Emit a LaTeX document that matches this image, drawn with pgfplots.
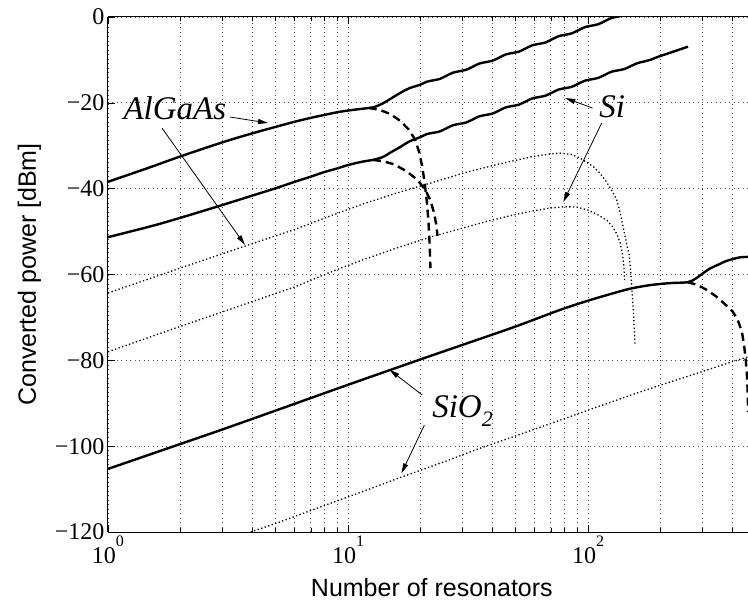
\documentclass[border=0pt]{standalone}
\usepackage{fontspec}
\setmainfont{Liberation Serif}
\setsansfont{Liberation Sans}
\usepackage{pgfplots}
\pgfplotsset{compat=1.18}
\usetikzlibrary{arrows.meta}
\newcommand{\tenpow}[1]{10\raisebox{17bp}{\fontsize{16bp}{16bp}\selectfont #1}}
\begin{document}
\begin{tikzpicture}
\begin{axis}[
  width=640bp, height=515bp, scale only axis,
  xmode=log, xmin=1, xmax=464, ymin=-120, ymax=0,
  axis x line=box, axis y line*=left,
  xtick={1,10,100}, xticklabels={\tenpow{0},\tenpow{1},\tenpow{2}},
  minor xtick={2,3,4,5,6,7,8,9,20,30,40,50,60,70,80,90,200,300,400},
  ytick={-120,-100,-80,-60,-40,-20,0},
  yticklabels={−120,−100,−80,−60,−40,−20,0},
  xmajorgrids, xminorgrids, ymajorgrids,
  grid style={black!70, line width=0.7bp, dash pattern=on 0.7bp off 3.8bp},
  minor grid style={black!70, line width=0.7bp, dash pattern=on 0.7bp off 3.8bp},
  tick align=inside, major tick length=7bp, minor tick length=4bp,
  every tick/.style={black, line width=0.6bp},
  axis line style={line width=1bp},
  tick label style={font=\fontsize{24bp}{26bp}\selectfont},
  xlabel={Number of resonators}, ylabel={Converted power [dBm]},
  label style={font=\sffamily\fontsize{25bp}{28bp}\selectfont},
  xlabel style={at={(axis description cs:0.506,-0.1262)}, anchor=base},
  ylabel style={at={(axis description cs:-0.1125,0.5)}, anchor=base, rotate=0},
]
% AlGaAs solid
\addplot[line width=2.4bp, smooth, tension=0.55] coordinates {
(1,-38.4)(1.5,-35)(2,-32.5)(3,-29.2)(4,-27.1)(5,-25.6)(6,-24.4)(7,-23.5)(8,-22.8)(9,-22.2)(10,-21.8)(11,-21.5)(12.2,-21.2)
(13,-20.9)(14,-20.1)(15,-19.1)(16.5,-17.7)(18,-16.6)(19.95,-15.8)
(21.26,-15.09)(22.65,-14.76)(24.13,-14.43)(25.70,-13.70)(27.38,-12.97)(29.17,-12.63)(31.08,-12.30)(33.11,-11.57)
(35.28,-10.84)(37.58,-10.51)(40.04,-10.18)(42.66,-9.45)(45.45,-8.72)(48.42,-8.39)(51.58,-8.06)(54.95,-7.33)
(58.55,-6.60)(62.37,-6.27)(66.45,-5.94)(70.79,-5.20)(75.42,-4.47)(80.35,-4.14)(85.60,-3.81)(91.20,-3.08)
(97.16,-2.35)(103.5,-2.02)(110.3,-1.69)(117.5,-0.96)(125.2,-0.23)(133.4,0.10)(142.1,0.43)};
% Si solid
\addplot[line width=2.4bp, smooth, tension=0.55] coordinates {
(1,-51.3)(1.5,-48.8)(2,-46.8)(3,-43.8)(4,-41.6)(5,-39.9)(6,-38.4)(7,-37.2)(8,-36.1)(9,-35.3)(10,-34.5)(11.5,-33.7)(12.7,-33.3)
(14,-32.6)(15,-31.6)(16.5,-30.3)(18,-29.0)(20,-28.0)
(21.26,-27.30)(22.65,-26.98)(24.13,-26.66)(25.70,-25.94)(27.38,-25.22)(29.17,-24.90)(31.08,-24.58)(33.11,-23.86)
(35.28,-23.14)(37.58,-22.82)(40.04,-22.50)(42.66,-21.78)(45.45,-21.06)(48.42,-20.74)(51.58,-20.42)(54.95,-19.70)
(58.55,-18.98)(62.37,-18.66)(66.45,-18.34)(70.79,-17.62)(75.42,-16.90)(80.35,-16.58)(85.60,-16.26)(91.20,-15.55)
(97.16,-14.83)(103.5,-14.51)(110.3,-14.19)(117.5,-13.47)(125.2,-12.75)(133.4,-12.43)(142.1,-12.11)(151.4,-11.39)
(161.3,-10.72)(171.8,-10.35)(183.0,-9.93)(195.0,-9.31)(207.7,-8.79)(221.3,-8.27)(235.8,-7.75)(251.2,-7.23)(261,-6.92)};
% AlGaAs dashed
\addplot[line width=2.4bp, dash pattern=on 8bp off 5bp] coordinates {
(12.2,-21.2)(13.5,-21.6)(15,-22.6)(16.5,-24.2)(17.9,-26.2)(19,-28.5)(19.8,-31.5)(20.4,-35)(20.9,-39)(21.3,-43)(21.6,-47)(21.8,-51)(21.95,-55)(22.05,-58.5)};
% Si dashed
\addplot[line width=2.4bp, dash pattern=on 8bp off 5bp] coordinates {
(12.7,-33.3)(14,-33.6)(15.5,-34.3)(17.5,-35.9)(19.5,-38)(21,-40.3)(22,-42.6)(22.8,-45.5)(23.3,-48.3)(23.6,-51)};
% AlGaAs dotted
\addplot[line width=1.3bp, dash pattern=on 1.3bp off 2.4bp] coordinates {
(1,-64.3)(2,-58.5)(4,-52.8)(6,-49.5)(8.4,-46.4)(11.5,-43.6)(16,-41.0)(20,-39.4)(25,-37.8)(31,-36.2)(43,-34.2)(59,-32.5)(70,-31.9)(76,-31.7)(85,-32.0)(92,-32.8)(99,-33.9)(106,-35.0)(112,-36.4)(118,-38.0)(123,-39.6)(128,-41.2)(132,-42.8)(136,-45.5)(140,-48.9)(145,-53)(148.5,-55.5)(151,-60)(153,-65)(155,-70)(157,-76.4)};
% Si dotted
\addplot[line width=1.3bp, dash pattern=on 1.3bp off 2.4bp] coordinates {
(1,-78)(2,-72.1)(4,-66.3)(6,-62.9)(8.4,-59.5)(11.5,-56.6)(16,-53.8)(22,-51.3)(30,-49.2)(38,-47.6)(50,-46)(60,-45.1)(70,-44.5)(80,-44.2)(90,-44.3)(100,-45)(110,-46.1)(120,-47.4)(127,-49)(132,-50.6)(136,-52.6)(139,-55)(141,-58)(142,-61.3)};
% SiO2 solid
\addplot[line width=2.4bp, smooth, tension=0.5] coordinates {
(1,-105.3)(2,-99.5)(3,-96.1)(5,-91.7)(10,-85.7)(20,-79.8)(30,-76.4)(50,-72.1)(76,-68.3)(100,-66.1)(125,-64.5)(150,-63.3)(180,-62.5)(220,-62.0)(260,-61.8)
(280,-61.0)(300,-59.8)(320,-58.7)(346,-57.8)(375,-56.9)(401,-56.4)(430,-56.0)(464,-55.9)};
% SiO2 dashed
\addplot[line width=2.4bp, dash pattern=on 8bp off 5bp] coordinates {
(260,-61.8)(285,-62.4)(310,-63.5)(340,-65)(370,-66.8)(400,-68.6)(420,-70.5)(438,-73.4)(448,-77)(455,-80.5)(460,-84)(463,-88)(464.5,-92)};
% SiO2 dotted
\addplot[line width=1.3bp, dash pattern=on 1.3bp off 2.4bp] coordinates {
(3.8,-120.3)(5,-118)(8,-113.8)(12,-110.2)(16.7,-107.2)(25,-103.7)(35,-100.6)(50,-97.6)(76,-94)(110,-90.8)(160,-87.6)(200,-85.8)(300,-82.6)(400,-80.3)(464,-79.2)};
% annotations
\node[font=\fontsize{33bp}{36bp}\selectfont\itshape, anchor=base] at (axis cs:1.9,-24.0) {AlGaAs};
\node[font=\fontsize{33bp}{36bp}\selectfont\itshape, anchor=base] at (axis cs:126,-23.5) {Si};
\node[font=\fontsize{33bp}{36bp}\selectfont\itshape, anchor=base] at (axis cs:30,-93.4) {SiO\raisebox{-9bp}{\fontsize{22bp}{22bp}\selectfont 2}};
\draw[line width=0.8bp, -{Stealth[length=10bp,width=5bp,inset=0bp]}] (axis cs:3.22,-23.3) -- (axis cs:4.64,-24.7);
\draw[line width=0.8bp, -{Stealth[length=10bp,width=5bp,inset=0bp]}] (axis cs:1.68,-25.9) -- (axis cs:3.72,-53.1);
\draw[line width=0.8bp, -{Stealth[length=10bp,width=5bp,inset=0bp]}] (axis cs:104.3,-21.2) -- (axis cs:80.4,-18.9);
\draw[line width=0.8bp, -{Stealth[length=10bp,width=5bp,inset=0bp]}] (axis cs:114,-24.7) -- (axis cs:78.9,-43.1);
\draw[line width=0.8bp, -{Stealth[length=10bp,width=5bp,inset=0bp]}] (axis cs:20.4,-88.1) -- (axis cs:14.9,-82.2);
\draw[line width=0.8bp, -{Stealth[length=10bp,width=5bp,inset=0bp]}] (axis cs:20.8,-95.1) -- (axis cs:16.7,-106.3);
\end{axis}
\pgfresetboundingbox
\path[use as bounding box] ([shift={(-108bp,-69bp)}]current axis.south west) rectangle ([shift={(0bp,17bp)}]current axis.north east);
\end{tikzpicture}
\end{document}
